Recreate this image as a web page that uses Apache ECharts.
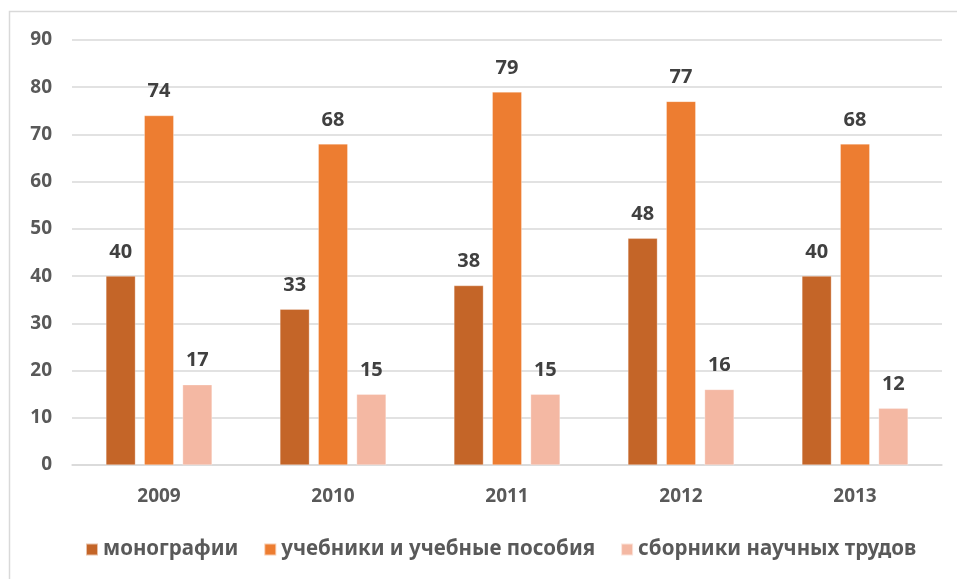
<!DOCTYPE html>
<html>
<head>
<meta charset="utf-8">
<script src="https://cdn.jsdelivr.net/npm/echarts@6/dist/echarts.min.js"></script>
<style>html,body{margin:0;padding:0;background:#fff;}#c{width:957px;height:579px;}</style>
</head>
<body>
<div id="c"></div>
<script>
var categories = ['2009', '2010', '2011', '2012', '2013'];
var seriesNames = ['монографии', 'учебники и учебные пособия', 'сборники научных трудов'];
var monographs = [40, 33, 38, 48, 40];
var textbooks = [74, 68, 79, 77, 68];
var collections = [17, 15, 15, 16, 12];
var yTicks = [0, 10, 20, 30, 40, 50, 60, 70, 80, 90];

var colors = ['#C46528', '#ED7D31', '#F4B8A3'];
var font = 'Noto Sans';
var chart = echarts.init(document.getElementById('c'));
var values = [monographs, textbooks, collections];
var series = values.map(function (v, i) {
  return {
    name: seriesNames[i],
    type: 'bar',
    data: v,
    barGap: '30%',
    barCategoryGap: '39%',
    itemStyle: { color: colors[i], borderColor: 'rgba(255,255,255,0.6)', borderWidth: 0.5 },
    label: { show: true, position: 'top', distance: 14, color: '#404040', fontFamily: font, fontWeight: 'bold', fontSize: 20 }
  };
});
chart.setOption({
  animation: false,
  color: colors,
  graphic: [{ type: 'rect', shape: { x: 9.5, y: 11.5, width: 1000, height: 1000 }, style: { fill: 'none', stroke: '#d9d9d9', lineWidth: 1.5 } }],
  grid: { left: 72, right: 15, top: 40, bottom: 114 },
  legend: {
    bottom: 14, left: 80, itemWidth: 12, itemHeight: 12, itemGap: 25,
    icon: 'rect',
    textStyle: { color: '#595959', fontFamily: font, fontSize: 20.5, fontWeight: 'bold' },
    data: seriesNames
  },
  xAxis: {
    type: 'category', data: categories,
    axisLine: { lineStyle: { color: '#d9d9d9', width: 1.5 } },
    axisTick: { show: false },
    axisLabel: { color: '#595959', fontFamily: font, fontSize: 19, fontWeight: 'bold', margin: 22 }
  },
  yAxis: {
    type: 'value', min: yTicks[0], max: yTicks[yTicks.length - 1], interval: 10,
    axisLine: { show: false }, axisTick: { show: false },
    splitLine: { lineStyle: { color: '#d9d9d9', width: 1.5 } },
    axisLabel: { color: '#595959', fontFamily: font, fontSize: 19, fontWeight: 'bold', margin: 20 }
  },
  series: series
});
</script>
</body>
</html>
